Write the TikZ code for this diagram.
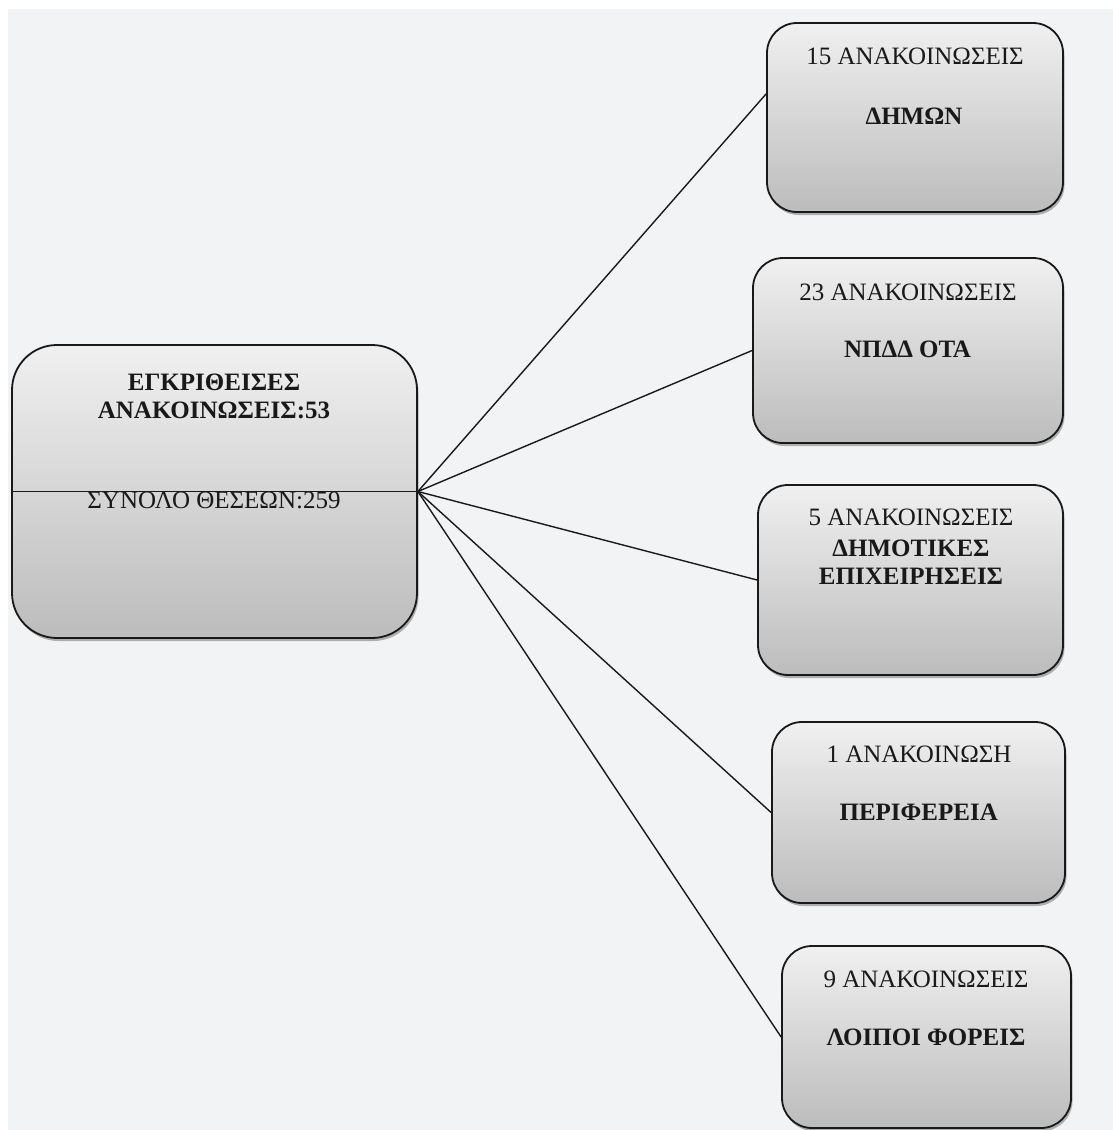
\documentclass[tikz,border=0pt]{standalone}
\usepackage{fontspec}
\setmainfont{Liberation Serif}
\usetikzlibrary{shadows}
\definecolor{bg}{RGB}{242,243,245}
\definecolor{topg}{RGB}{240,240,240}
\definecolor{botg}{RGB}{188,188,188}
\begin{document}
\begin{tikzpicture}[x=1pt,y=-1pt,
  box/.style={draw=black!90, line width=1.8pt, rounded corners=30pt,
    top color=topg, bottom color=botg,
    drop shadow={shadow xshift=1.5pt, shadow yshift=-3pt, fill=black!50, opacity=.6},
    inner sep=0pt},
  txt/.style={anchor=base, font=\fontsize{25}{30}\selectfont, inner sep=0pt, text=black!90},
  btxt/.style={txt, font=\fontsize{25}{30}\selectfont\bfseries},
  link/.style={line width=1.4pt, draw=black!90}]
\useasboundingbox (0,0) rectangle (1112,1130);
\fill[white] (-5,-5) rectangle (1120,1140);
\fill[bg] (8,9) rectangle (1120,1140);

% boxes
\node[box, minimum width=405pt, minimum height=293pt, rounded corners=45pt] (main) at (214.5,491.5) {};
\node[box, minimum width=296pt, minimum height=189pt] (b1) at (915,117.5) {};
\node[box, minimum width=310pt, minimum height=185pt] (b2) at (908,350.5) {};
\node[box, minimum width=305pt, minimum height=190pt] (b3) at (910.5,580) {};
\node[box, minimum width=293pt, minimum height=181pt] (b4) at (918.5,812.5) {};
\node[box, minimum width=289pt, minimum height=182pt] (b5) at (926.5,1037) {};

% connectors
\draw[link] (main.east) -- (b1.171.4);
\draw[link] (main.east) -- (b2.west);
\draw[link] (main.east) -- (b3.west);
\draw[link] (main.east) -- (b4.west);
\draw[link] (main.east) -- (b5.west);

% texts
\node[btxt] (m1) at (214,390) {ΕΓΚΡΙΘΕΙΣΕΣ};
\node[btxt] (m2) at (214,418) {ΑΝΑΚΟΙΝΩΣΕΙΣ:53};
\node[txt] (m3) at (214,508) {ΣΥΝΟΛΟ ΘΕΣΕΩΝ:259};
\draw[link] (main.west) -- (main.east);

\node[txt] (t1a) at (915,64) {15 ΑΝΑΚΟΙΝΩΣΕΙΣ};
\node[btxt] (t1b) at (914,124) {ΔΗΜΩΝ};

\node[txt] (t2a) at (908,300) {23 ΑΝΑΚΟΙΝΩΣΕΙΣ};
\node[btxt] (t2b) at (907.5,357) {ΝΠΔΔ ΟΤΑ};

\node[txt] (t3a) at (911,525) {5 ΑΝΑΚΟΙΝΩΣΕΙΣ};
\node[btxt] (t3b) at (911,556) {ΔΗΜΟΤΙΚΕΣ};
\node[btxt] (t3c) at (911,584) {ΕΠΙΧΕΙΡΗΣΕΙΣ};

\node[txt] (t4a) at (919,762) {1 ΑΝΑΚΟΙΝΩΣΗ};
\node[btxt] (t4b) at (918.7,820) {ΠΕΡΙΦΕΡΕΙΑ};

\node[txt] (t5a) at (926,987) {9 ΑΝΑΚΟΙΝΩΣΕΙΣ};
\node[btxt] (t5b) at (926,1045) {ΛΟΙΠΟΙ ΦΟΡΕΙΣ};
\end{tikzpicture}
\end{document}
